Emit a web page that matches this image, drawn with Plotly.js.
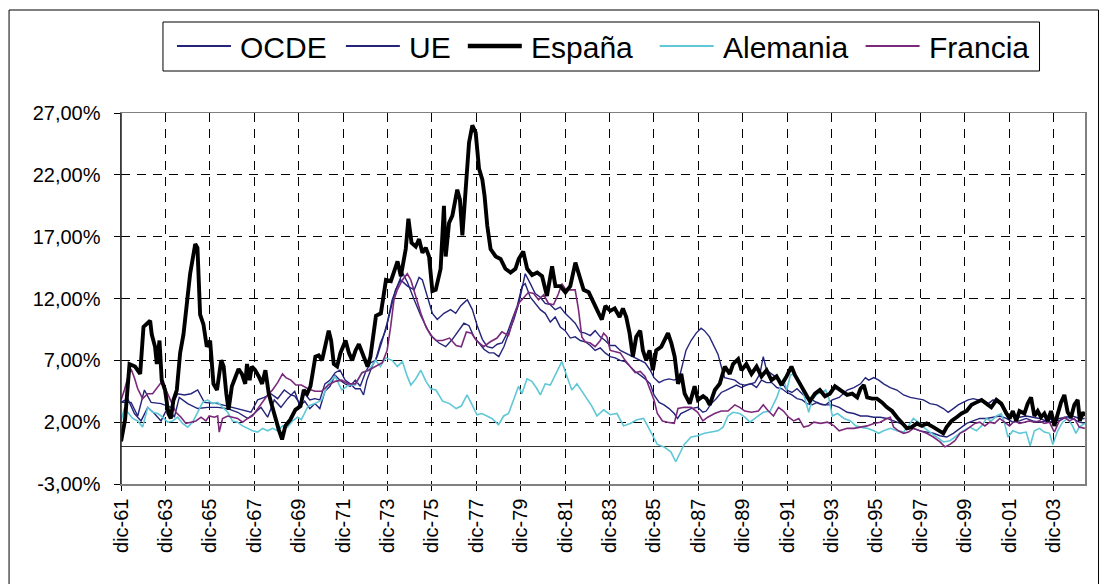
<!DOCTYPE html>
<html>
<head>
<meta charset="utf-8">
<script src="https://cdn.plot.ly/plotly-3.0.1.min.js"></script>
<style>
html,body{margin:0;padding:0;background:#fff;}
#chart{width:1108px;height:584px;}
</style>
</head>
<body>
<div id="chart"></div>
<script>
// ---- Data ----
// time in decimal years, values in %
const tickLabels = ["dic-61","dic-63","dic-65","dic-67","dic-69","dic-71","dic-73","dic-75","dic-77","dic-79","dic-81","dic-83","dic-85","dic-87","dic-89","dic-91","dic-93","dic-95","dic-97","dic-99","dic-01","dic-03"];
const yTicks = [-3, 2, 7, 12, 17, 22, 27];
const yTickLabels = ["-3,00%","2,00%","7,00%","12,00%","17,00%","22,00%","27,00%"];
const seriesNames = ["OCDE", "UE", "España", "Alemania", "Francia"];

const espanaT = [1961.92,1962.1,1962.3,1962.55,1962.78,1962.93,1963.23,1963.3,1963.45,1963.53,1963.65,1963.75,1963.9,1964.05,1964.16,1964.28,1964.43,1964.58,1964.73,1964.88,1965.03,1965.26,1965.36,1965.48,1965.63,1965.78,1965.93,1966.08,1966.24,1966.43,1966.54,1966.66,1966.76,1966.91,1967.06,1967.21,1967.36,1967.51,1967.59,1967.71,1967.81,1967.96,1968.12,1968.27,1968.42,1968.57,1968.72,1968.87,1969.02,1969.17,1969.32,1969.54,1969.77,1970.0,1970.15,1970.3,1970.45,1970.67,1970.82,1970.97,1971.12,1971.27,1971.38,1971.5,1971.65,1971.8,1972.03,1972.18,1972.33,1972.48,1972.63,1972.78,1972.93,1973.02,1973.15,1973.4,1973.62,1973.85,1974.07,1974.22,1974.37,1974.52,1974.74,1974.86,1975.0,1975.19,1975.34,1975.49,1975.64,1975.79,1975.94,1976.09,1976.31,1976.46,1976.54,1976.69,1976.84,1977.06,1977.18,1977.29,1977.44,1977.59,1977.74,1977.89,1978.04,1978.19,1978.29,1978.41,1978.56,1978.79,1979.01,1979.23,1979.46,1979.68,1979.83,1980.03,1980.21,1980.43,1980.66,1980.88,1981.1,1981.33,1981.48,1981.7,1981.93,1982.15,1982.38,1982.53,1982.75,1982.98,1983.2,1983.43,1983.57,1983.73,1983.95,1984.15,1984.37,1984.52,1984.67,1984.82,1984.97,1985.12,1985.3,1985.42,1985.57,1985.72,1985.87,1986.02,1986.25,1986.4,1986.55,1986.7,1986.85,1987.0,1987.15,1987.3,1987.53,1987.75,1987.9,1988.13,1988.28,1988.43,1988.66,1988.88,1989.11,1989.33,1989.48,1989.71,1989.86,1990.08,1990.31,1990.54,1990.76,1990.99,1991.21,1991.44,1991.66,1991.89,1992.11,1992.27,1992.49,1992.72,1992.94,1993.17,1993.39,1993.62,1993.84,1994.07,1994.3,1994.62,1994.85,1995.07,1995.22,1995.37,1995.52,1995.74,1995.96,1996.19,1996.41,1996.64,1996.86,1997.08,1997.31,1997.53,1997.76,1997.98,1998.2,1998.5,1998.73,1998.95,1999.1,1999.32,1999.55,1999.77,2000.0,2000.22,2000.44,2000.67,2000.89,2001.11,2001.34,2001.56,2001.79,2001.94,2002.08,2002.23,2002.38,2002.6,2002.75,2002.9,2003.05,2003.2,2003.35,2003.5,2003.65,2003.8,2003.95,2004.1,2004.25,2004.4,2004.55,2004.7,2004.85,2005.0,2005.1,2005.22,2005.32];
const espanaV = [0.45,2.2,6.7,6.5,5.9,9.7,10.2,9.1,8.1,6.7,8.6,5.4,4.6,2.7,2.3,3.8,4.6,7.6,9.1,11.3,14.0,16.4,16.1,10.7,9.9,8.1,8.6,5.1,4.6,7.0,6.5,4.3,3.0,4.9,5.7,6.3,5.9,5.1,6.7,5.4,6.5,6.2,5.7,5.1,6.2,4.3,3.3,2.2,1.4,0.6,1.7,2.2,3.0,3.3,4.6,4.3,4.9,7.3,7.4,7.0,8.3,9.4,8.6,6.7,6.5,7.6,8.6,7.6,7.0,7.8,8.3,7.6,6.8,6.5,7.3,10.6,10.8,13.5,13.4,14.1,15.0,13.8,16.0,18.45,16.5,16.2,16.8,15.7,16.1,15.4,12.6,12.7,14.4,19.5,15.4,18.1,18.7,20.8,20.0,17.1,20.6,24.6,26.0,25.4,22.5,21.6,20.3,17.9,16.0,15.4,15.2,14.4,14.1,14.4,15.2,15.8,14.4,13.9,14.1,13.8,12.2,14.6,13.0,13.0,12.5,13.0,14.9,13.9,12.7,12.5,11.6,10.8,10.3,11.4,11.0,11.2,10.5,11.2,10.5,9.2,7.3,8.9,9.4,7.8,7.0,7.8,6.2,7.8,8.1,8.6,9.2,8.4,7.3,5.1,5.9,4.3,3.5,4.9,3.8,4.1,3.9,3.4,4.6,5.1,6.5,5.9,6.7,7.1,6.2,6.7,5.9,6.5,5.7,6.2,5.4,5.7,5.0,5.7,6.5,5.8,5.1,4.3,3.7,4.3,4.6,4.1,4.3,4.9,4.6,4.2,4.3,4.0,4.7,5.0,4.0,3.9,3.9,3.6,3.2,2.9,2.4,1.9,1.5,1.6,1.9,1.7,1.9,1.6,1.3,1.1,1.6,2.1,2.4,2.7,2.9,3.4,3.6,3.8,3.5,3.2,3.8,3.5,2.7,2.3,2.9,2.1,2.9,2.7,3.5,4.0,2.5,2.9,2.4,2.7,2.1,2.9,1.7,2.7,3.6,4.2,2.8,2.4,3.4,3.8,2.1,2.8,2.5];

const ocdeT = [1961.92,1962.37,1962.67,1962.97,1963.27,1963.72,1964.17,1964.47,1964.77,1965.07,1965.37,1965.67,1966.27,1966.87,1967.47,1967.77,1968.07,1968.37,1968.67,1968.97,1969.27,1969.57,1969.74,1969.97,1970.19,1970.42,1970.65,1970.87,1971.1,1971.33,1971.56,1971.78,1972.01,1972.24,1972.47,1972.69,1972.84,1972.99,1973.22,1973.45,1973.68,1973.9,1974.13,1974.36,1974.51,1974.59,1974.82,1975.12,1975.42,1975.72,1975.94,1976.24,1976.54,1976.84,1977.14,1977.36,1977.59,1977.81,1978.04,1978.26,1978.49,1978.71,1978.93,1979.16,1979.38,1979.61,1979.83,1980.12,1980.35,1980.57,1980.8,1981.02,1981.25,1981.47,1981.7,1981.92,1982.15,1982.37,1982.6,1982.82,1983.05,1983.27,1983.5,1983.72,1983.95,1984.17,1984.4,1984.62,1984.85,1985.07,1985.3,1985.52,1985.75,1985.92,1986.15,1986.37,1986.6,1986.83,1987.06,1987.21,1987.36,1987.59,1987.82,1988.04,1988.19,1988.42,1988.65,1988.8,1988.95,1989.1,1989.33,1989.56,1989.78,1990.01,1990.24,1990.46,1990.69,1990.84,1990.99,1991.22,1991.45,1991.68,1991.9,1992.13,1992.36,1992.59,1992.81,1993.04,1993.34,1993.65,1993.95,1994.26,1994.62,1994.92,1995.22,1995.44,1995.59,1995.82,1996.04,1996.26,1996.56,1996.86,1997.16,1997.46,1997.75,1998.05,1998.35,1998.65,1998.95,1999.17,1999.4,1999.62,1999.84,2000.07,2000.29,2000.52,2000.74,2000.97,2001.19,2001.41,2001.64,2001.86,2002.08,2002.38,2002.68,2002.98,2003.28,2003.58,2003.88,2004.17,2004.47,2004.77,2005.07,2005.32];
const ocdeV = [3.6,3.6,2.5,4.6,3.6,3.5,3.2,4.3,4.2,4.3,4.6,3.6,3.5,3.2,2.9,2.8,3.8,4.0,4.3,3.9,4.6,4.2,4.1,3.5,4.3,3.8,3.9,3.8,5.1,5.4,6.0,6.2,5.4,5.1,4.7,4.7,4.2,5.4,6.5,7.3,8.6,10.0,11.9,13.1,13.7,14.1,13.3,11.9,10.6,9.5,8.9,8.4,8.1,8.7,9.5,10.0,9.8,8.9,8.4,7.9,7.6,7.6,7.3,8.1,9.2,10.3,11.6,14.0,13.2,12.4,12.1,11.6,11.5,11.1,11.3,10.8,10.4,10.0,9.3,9.2,9.0,9.4,8.9,8.6,8.2,8.2,7.8,7.6,7.4,7.2,7.0,6.8,6.2,5.6,5.2,5.4,5.5,5.4,5.6,6.7,7.8,8.6,9.2,9.6,9.4,8.9,8.1,7.5,6.5,5.6,5.5,5.4,5.1,5.0,5.1,5.2,5.9,7.3,6.2,5.9,5.6,5.2,4.6,4.4,4.7,4.3,3.9,3.8,3.5,3.4,3.8,4.0,4.6,4.8,5.1,5.6,5.4,5.6,5.4,5.1,4.8,4.6,4.2,4.0,3.9,3.8,3.5,3.4,3.1,2.8,3.1,3.4,3.6,3.8,3.9,3.8,3.6,3.5,3.8,3.6,3.2,2.7,2.5,2.4,2.5,2.4,2.3,2.1,2.3,2.1,2.4,2.5,2.3,2.3];

const ueT = [1961.92,1962.22,1962.52,1962.82,1963.12,1963.42,1963.72,1964.02,1964.32,1964.54,1964.92,1965.37,1965.82,1966.27,1966.72,1967.17,1967.62,1967.92,1968.22,1968.52,1968.82,1969.12,1969.42,1969.74,1969.97,1970.19,1970.42,1970.65,1970.87,1971.1,1971.33,1971.56,1971.78,1972.01,1972.24,1972.47,1972.69,1972.92,1973.15,1973.38,1973.6,1973.83,1974.06,1974.28,1974.51,1974.82,1975.12,1975.34,1975.49,1975.72,1975.94,1976.16,1976.46,1976.76,1976.99,1977.21,1977.51,1977.74,1977.96,1978.19,1978.41,1978.64,1978.86,1979.08,1979.31,1979.53,1979.76,1979.98,1980.12,1980.35,1980.57,1980.8,1981.02,1981.25,1981.47,1981.7,1981.92,1982.15,1982.37,1982.6,1982.82,1983.05,1983.27,1983.5,1983.72,1983.95,1984.17,1984.4,1984.62,1984.85,1985.07,1985.3,1985.52,1985.75,1985.92,1986.15,1986.37,1986.6,1986.83,1986.98,1987.13,1987.36,1987.59,1987.89,1988.12,1988.27,1988.5,1988.72,1988.95,1989.18,1989.4,1989.63,1989.86,1990.08,1990.31,1990.54,1990.76,1990.99,1991.22,1991.45,1991.68,1991.9,1992.13,1992.36,1992.59,1992.81,1993.04,1993.27,1993.5,1993.73,1993.95,1994.26,1994.62,1994.92,1995.22,1995.52,1995.82,1996.11,1996.41,1996.71,1997.01,1997.31,1997.6,1997.9,1998.2,1998.5,1998.8,1999.1,1999.4,1999.7,2000.0,2000.29,2000.59,2000.89,2001.19,2001.49,2001.79,2002.08,2002.38,2002.68,2002.98,2003.28,2003.58,2003.88,2004.17,2004.47,2004.77,2005.07,2005.32];
const ueV = [3.6,3.9,2.7,2.1,3.2,2.7,2.1,3.2,2.4,4.0,3.5,3.1,3.2,3.2,3.1,2.8,2.3,2.7,3.2,2.4,3.8,3.2,3.9,4.5,3.3,3.7,3.1,3.5,3.1,4.5,4.9,5.8,5.4,5.1,4.9,5.4,4.9,6.0,6.8,7.0,8.4,9.4,11.1,12.7,13.5,13.0,12.7,13.7,13.5,12.2,10.8,10.3,10.8,11.1,10.8,11.4,11.9,11.1,9.8,8.7,8.1,8.0,8.3,8.4,9.2,10.3,11.4,13.0,13.2,12.1,11.6,11.1,10.8,10.1,10.5,9.7,9.4,8.8,8.9,8.6,8.5,8.2,7.8,8.0,7.6,7.3,7.2,7.0,6.9,6.5,6.1,5.8,5.5,5.1,4.2,3.6,3.4,3.1,2.7,2.3,2.7,2.9,3.1,3.2,2.8,2.9,3.5,3.9,4.4,4.6,4.8,5.0,4.8,5.0,5.1,4.8,5.4,5.2,5.2,4.8,4.7,4.4,4.2,3.9,3.8,3.5,3.4,3.6,3.4,3.4,3.4,3.2,2.8,2.7,2.5,2.5,2.4,2.4,2.3,2.1,1.9,1.6,1.5,1.3,1.2,1.1,0.9,0.8,1.1,1.5,1.9,2.1,2.3,2.3,2.4,2.5,2.3,2.0,2.1,2.3,2.1,2.0,2.1,2.0,2.3,2.4,2.3,2.0,1.9];

const alemaniaT = [1961.92,1962.07,1962.22,1962.44,1962.67,1962.89,1963.12,1963.34,1963.57,1963.79,1964.02,1964.24,1964.47,1964.69,1964.92,1965.14,1965.37,1965.59,1965.82,1966.04,1966.27,1966.49,1966.72,1966.94,1967.17,1967.39,1967.62,1967.84,1968.07,1968.29,1968.52,1968.74,1968.97,1969.19,1969.42,1969.64,1969.87,1970.04,1970.34,1970.65,1970.95,1971.25,1971.56,1971.86,1972.16,1972.47,1972.77,1973.07,1973.38,1973.6,1973.83,1974.13,1974.36,1974.59,1974.81,1974.97,1975.19,1975.42,1975.65,1975.87,1976.1,1976.4,1976.71,1977.01,1977.24,1977.5,1977.7,1977.95,1978.17,1978.4,1978.62,1978.92,1979.15,1979.37,1979.6,1979.82,1979.97,1980.2,1980.42,1980.65,1980.8,1981.02,1981.25,1981.47,1981.62,1981.77,1982.0,1982.22,1982.45,1982.67,1982.9,1983.12,1983.35,1983.65,1983.95,1984.25,1984.55,1984.85,1985.15,1985.45,1985.75,1986.07,1986.37,1986.68,1986.9,1987.06,1987.28,1987.59,1987.89,1988.19,1988.5,1988.8,1989.03,1989.25,1989.48,1989.78,1990.01,1990.24,1990.54,1990.84,1991.15,1991.45,1991.6,1991.75,1991.9,1992.06,1992.21,1992.36,1992.51,1992.66,1992.89,1993.04,1993.27,1993.5,1993.65,1993.8,1993.95,1994.18,1994.48,1994.77,1995.0,1995.22,1995.52,1995.82,1996.04,1996.26,1996.56,1996.86,1997.16,1997.38,1997.6,1997.83,1998.05,1998.35,1998.65,1998.95,1999.25,1999.55,1999.84,2000.14,2000.44,2000.67,2000.89,2001.11,2001.34,2001.56,2001.71,2001.86,2002.08,2002.38,2002.68,2002.86,2003.05,2003.28,2003.5,2003.73,2003.88,2004.1,2004.32,2004.55,2004.77,2004.92,2005.07,2005.32];
const alemaniaV = [2.1,3.1,2.8,2.3,2.1,1.6,3.2,2.8,2.7,2.4,2.0,2.1,2.4,1.9,1.6,2.0,2.8,3.6,3.8,3.5,3.6,3.2,2.8,2.1,2.0,1.7,1.5,1.3,1.2,1.5,1.3,1.5,1.3,1.7,1.6,2.1,2.4,2.2,3.3,3.5,3.8,5.1,5.7,4.6,5.0,5.0,6.0,6.2,7.0,6.5,7.2,7.0,6.5,6.9,5.7,5.0,5.5,6.2,5.3,4.7,4.6,3.7,3.5,3.1,3.3,4.2,3.5,2.6,2.7,2.5,2.3,1.8,2.5,2.7,3.8,4.9,4.3,5.5,5.3,4.7,4.2,5.1,5.0,5.8,6.4,6.9,5.7,4.6,5.1,4.5,3.8,3.3,2.5,3.0,2.6,2.7,1.7,1.9,2.2,2.3,1.3,0.2,0.0,-0.4,-1.2,-0.6,0.2,0.8,0.9,1.1,1.2,1.3,1.6,2.5,2.8,2.7,2.4,2.0,2.4,2.8,2.9,4.0,4.8,5.5,4.6,5.8,5.9,5.4,5.2,4.3,2.8,3.8,4.3,4.4,4.6,3.9,2.5,2.7,2.3,2.1,1.7,1.6,1.5,1.3,1.1,1.3,1.5,1.3,1.2,1.7,2.3,2.0,1.6,1.2,0.8,0.4,0.5,0.9,1.3,1.6,1.3,1.7,2.3,2.1,2.5,2.7,1.9,0.8,1.3,1.1,1.2,0.1,1.3,1.5,1.2,1.1,0.2,1.3,2.0,2.3,1.7,1.1,1.6,1.9];

const franciaT = [1961.92,1962.07,1962.22,1962.37,1962.52,1962.67,1962.89,1963.12,1963.34,1963.57,1963.72,1963.94,1964.17,1964.39,1964.62,1964.84,1965.07,1965.29,1965.52,1965.74,1965.89,1966.12,1966.27,1966.34,1966.49,1966.72,1966.94,1967.17,1967.39,1967.62,1967.84,1968.07,1968.29,1968.52,1968.74,1968.97,1969.19,1969.34,1969.57,1969.79,1970.04,1970.34,1970.65,1970.95,1971.25,1971.56,1971.86,1972.16,1972.47,1972.77,1973.07,1973.38,1973.68,1973.9,1974.06,1974.21,1974.36,1974.59,1974.81,1974.97,1975.19,1975.42,1975.65,1975.87,1976.1,1976.4,1976.71,1977.01,1977.24,1977.47,1977.7,1977.92,1978.25,1978.55,1978.85,1979.07,1979.37,1979.6,1979.82,1980.05,1980.27,1980.5,1980.72,1980.95,1981.17,1981.4,1981.62,1981.77,1981.92,1982.15,1982.37,1982.52,1982.67,1982.82,1983.05,1983.27,1983.5,1983.65,1983.8,1983.95,1984.17,1984.4,1984.62,1984.85,1985.07,1985.3,1985.52,1985.75,1985.92,1986.07,1986.3,1986.53,1986.83,1987.0,1987.28,1987.59,1987.89,1988.12,1988.34,1988.65,1988.95,1989.25,1989.56,1989.78,1990.01,1990.31,1990.62,1990.84,1991.07,1991.3,1991.53,1991.75,1991.98,1992.21,1992.44,1992.66,1992.89,1993.12,1993.42,1993.73,1994.03,1994.26,1994.62,1994.92,1995.22,1995.52,1995.82,1996.11,1996.41,1996.56,1996.71,1996.93,1997.16,1997.38,1997.6,1997.9,1998.2,1998.5,1998.8,1999.02,1999.25,1999.47,1999.7,1999.92,2000.14,2000.37,2000.59,2000.82,2001.04,2001.26,2001.49,2001.71,2001.93,2002.16,2002.38,2002.6,2002.83,2003.05,2003.28,2003.5,2003.73,2003.95,2004.17,2004.4,2004.62,2004.85,2005.07,2005.32];
const franciaV = [3.8,4.6,5.6,6.3,5.6,4.7,3.9,4.3,4.3,4.8,5.2,4.6,3.6,2.8,2.4,1.9,2.0,2.1,2.4,2.1,2.5,2.4,2.5,1.2,2.3,2.5,2.4,2.3,2.0,2.3,2.5,3.1,3.6,4.2,4.6,5.2,5.9,5.6,5.4,5.0,5.0,4.7,4.5,4.5,5.0,5.3,5.4,5.1,5.1,6.0,6.2,6.5,6.8,7.8,9.7,11.9,12.7,13.5,14.0,13.5,12.1,10.8,9.7,9.0,8.6,8.6,8.8,8.2,8.1,9.3,9.2,8.6,8.1,8.5,8.8,9.3,9.0,10.5,11.6,12.1,12.5,12.4,11.9,12.3,11.6,11.5,12.4,13.2,12.8,12.7,12.7,11.1,8.9,8.5,8.4,8.1,8.6,9.2,8.9,7.8,7.7,7.6,7.0,6.5,6.0,6.1,5.7,4.6,3.8,2.7,2.1,2.0,1.9,3.1,3.2,3.2,2.8,2.1,2.4,2.7,2.9,2.9,3.4,3.2,2.9,2.8,2.9,3.4,2.9,2.5,3.2,2.9,2.4,2.1,2.3,1.6,1.7,2.0,1.9,2.0,1.7,1.3,1.5,1.5,1.6,1.7,1.9,2.0,2.3,2.4,1.6,1.3,1.1,1.2,1.5,1.3,1.1,0.8,0.4,0.0,0.2,0.5,1.1,1.3,1.6,1.9,2.0,1.7,2.0,1.9,2.3,2.0,1.7,2.1,1.9,2.0,2.1,2.0,2.1,1.9,2.0,1.2,2.1,2.4,2.1,2.3,1.6,1.5];

// ---- Chart ----
const DEC61 = 1961 + 11 / 12;
const tickVals = tickLabels.map((_, i) => DEC61 + 2 * i);

const NAVY = '#24247c', CYAN = '#5fc7d6', PURPLE = '#7b2a7b', BLACK = '#000000';
const styles = {
  "OCDE": {color: NAVY, width: 1.4},
  "UE": {color: NAVY, width: 1.4},
  "España": {color: BLACK, width: 3.9},
  "Alemania": {color: CYAN, width: 1.6},
  "Francia": {color: PURPLE, width: 1.6}
};
const seriesData = {
  "OCDE": [ocdeT, ocdeV], "UE": [ueT, ueV], "España": [espanaT, espanaV],
  "Alemania": [alemaniaT, alemaniaV], "Francia": [franciaT, franciaV]
};
// drawing order: thin lines first, España on top
const drawOrder = ["OCDE", "UE", "Alemania", "Francia", "España"];
const traces = drawOrder.map(n => ({
  x: seriesData[n][0], y: seriesData[n][1], name: n, type: 'scatter', mode: 'lines',
  line: {color: styles[n].color, width: styles[n].width}, hoverinfo: 'skip', showlegend: false
}));

// plot area in pixels
const L = 121, R = 1085.5, T = 113, B = 484;
const pw = R - L, ph = B - T;
const px = x => (x - L) / pw, py = y => (B - y) / ph;

// legend (drawn as shapes + text, matching the reference box)
const legLineX = [177, 346, 468, 660, 866];
const legLineLen = 54, legTextGap = 8, legY = 46;
const shapes = [
  {type: 'line', xref: 'paper', yref: 'paper', x0: 0, x1: 0, y0: 0, y1: 1,
   line: {color: '#222', width: 1.5}},
  {type: 'rect', xref: 'paper', yref: 'paper', x0: px(9), x1: px(1099), y0: py(600), y1: py(10),
   line: {color: '#000', width: 1}, fillcolor: 'rgba(0,0,0,0)', layer: 'below'},
  {type: 'rect', xref: 'paper', yref: 'paper', x0: px(163), x1: px(1040), y0: py(71), y1: py(22),
   line: {color: '#000', width: 1}, fillcolor: '#ffffff'}
];
const annotations = [];
seriesNames.forEach((n, i) => {
  const x0 = legLineX[i];
  shapes.push({type: 'line', xref: 'paper', yref: 'paper', x0: px(x0), x1: px(x0 + legLineLen),
               y0: py(legY), y1: py(legY), line: {color: styles[n].color, width: styles[n].width + 0.4}});
  annotations.push({xref: 'paper', yref: 'paper', x: px(x0 + legLineLen + legTextGap), y: py(legY + 1),
                    xanchor: 'left', yanchor: 'middle', showarrow: false, text: n,
                    font: {size: 30, color: '#000', family: 'Liberation Sans, Arial, sans-serif'},
                    borderpad: 0});
});

const layout = {
  width: 1108, height: 584,
  margin: {l: L, r: 1108 - R, t: T, b: 584 - B, pad: 0},
  paper_bgcolor: '#ffffff', plot_bgcolor: '#ffffff',
  font: {family: 'Liberation Sans, Arial, sans-serif', color: '#000', size: 20},
  showlegend: false,
  xaxis: {type: 'linear', range: [DEC61, 2005.33], tickmode: 'array',
          tickvals: tickVals, ticktext: tickLabels, tickangle: -90,
          tickfont: {size: 20}, ticks: 'outside', ticklen: 5, tickcolor: '#000',
          showgrid: true, gridcolor: '#000', gridwidth: 1, griddash: '9px,7px',
          showline: true, linecolor: '#808080', linewidth: 1.5, mirror: true,
          zeroline: false, fixedrange: true},
  yaxis: {range: [-3, 27], tickmode: 'array', tickvals: yTicks, ticktext: yTickLabels,
          tickfont: {size: 20}, ticks: 'outside', ticklen: 6, tickcolor: '#000',
          ticklabelstandoff: 9,
          showgrid: true, gridcolor: '#000', gridwidth: 1, griddash: '9px,7px',
          showline: true, linecolor: '#808080', linewidth: 1.5, mirror: true,
          zeroline: true, zerolinecolor: '#333', zerolinewidth: 1, fixedrange: true},
  shapes: shapes,
  annotations: annotations
};

Plotly.newPlot('chart', traces, layout, {staticPlot: true, displayModeBar: false});
</script>
</body>
</html>
